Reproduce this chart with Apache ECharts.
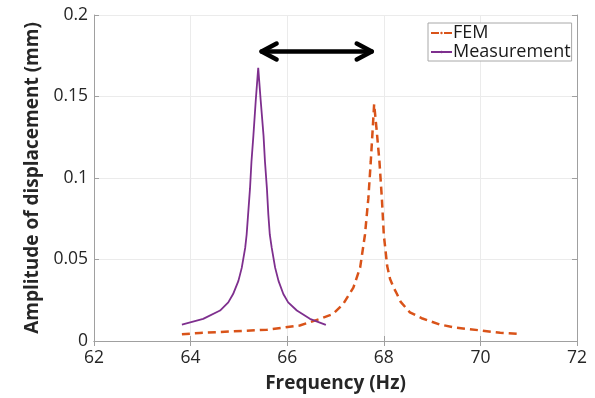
<!DOCTYPE html>
<html>
<head>
<meta charset="utf-8">
<script src="https://cdn.jsdelivr.net/npm/echarts@6/dist/echarts.min.js"></script>
<style>html,body{margin:0;padding:0;background:#fff;}#c{width:595px;height:398px;}</style>
</head>
<body>
<div id="c"></div>
<script>
const xTicks = [62, 64, 66, 68, 70, 72];
const yTicks = [0, 0.05, 0.1, 0.15, 0.2];
const seriesNames = ['FEM', 'Measurement'];

const femFreq = [63.82, 64.19, 64.88, 65.58, 66.26, 66.68, 66.95, 67.16, 67.37, 67.51, 67.61, 67.68, 67.73, 67.77, 67.80,
                 67.85, 67.91, 67.96, 68.00, 68.07, 68.13, 68.20, 68.27, 68.35, 68.54, 68.80, 69.16, 69.51, 70.00, 70.41, 70.78];
const femAmp  = [0.0041, 0.0049, 0.0059, 0.0069, 0.0095, 0.0136, 0.0166, 0.0227, 0.0328, 0.045, 0.0652, 0.0875, 0.110, 0.130, 0.1453,
                 0.130, 0.110, 0.0875, 0.0652, 0.046, 0.038, 0.033, 0.029, 0.024, 0.0176, 0.0138, 0.0101, 0.0081, 0.0065, 0.0050, 0.0044];

const measFreq = [63.82, 64.26, 64.61, 64.78, 64.88, 64.99, 65.06, 65.13, 65.16, 65.19, 65.23, 65.26, 65.30, 65.35, 65.40,
                  65.45, 65.51, 65.54, 65.58, 65.61, 65.64, 65.68, 65.75, 65.82, 65.92, 66.02, 66.20, 66.47, 66.80];
const measAmp  = [0.0101, 0.0136, 0.0187, 0.0237, 0.0288, 0.0369, 0.045, 0.0571, 0.0652, 0.0774, 0.0936, 0.110, 0.126, 0.148, 0.1676,
                  0.148, 0.126, 0.110, 0.0936, 0.0774, 0.0652, 0.0571, 0.045, 0.0369, 0.0288, 0.0237, 0.0187, 0.0136, 0.0099];

// annotation arrow (data units)
const arrowFrom = [65.47, 0.1776];
const arrowTo = [67.75, 0.1776];

const font = '"Open Sans", sans-serif';
const chart = echarts.init(document.getElementById('c'), null, {renderer: 'canvas'});
const axisLine = {show: true, lineStyle: {color: '#a0a0a0', width: 1}};
const tick = {show: true, inside: true, length: 5, lineStyle: {color: '#a0a0a0'}};
const xMin = xTicks[0], xMax = xTicks[xTicks.length - 1], xInt = xTicks[1] - xTicks[0];
const yMin = yTicks[0], yMax = yTicks[yTicks.length - 1], yInt = yTicks[1] - yTicks[0];

chart.setOption({
  animation: false,
  backgroundColor: '#fff',
  grid: {left: 94, right: 18, top: 15, bottom: 54},
  legend: {
    data: seriesNames,
    orient: 'vertical',
    left: 428, top: 23,
    itemWidth: 21, itemHeight: 3, itemGap: 1,
    padding: [1, 1, 0, 2],
    borderColor: '#a8a8a8', borderWidth: 1,
    backgroundColor: '#fff',
    textStyle: {fontFamily: font, fontSize: 18, lineHeight: 18, color: '#1a1a1a', padding: [0, 0, 0, -4]}
  },
  xAxis: [{
    type: 'value', min: xMin, max: xMax, interval: xInt,
    name: 'Frequency (Hz)', nameLocation: 'middle', nameGap: 33,
    nameTextStyle: {fontFamily: font, fontSize: 19, fontWeight: 'bold', color: '#262626'},
    axisLine: axisLine, axisTick: tick,
    axisLabel: {fontFamily: font, fontSize: 17.5, color: '#262626', margin: 8},
    splitLine: {show: true, lineStyle: {color: '#ebebeb', width: 1}}
  }, {
    type: 'value', min: xMin, max: xMax, interval: xInt, position: 'top',
    axisLine: axisLine, axisTick: tick, axisLabel: {show: false}, splitLine: {show: false}
  }],
  yAxis: [{
    type: 'value', min: yMin, max: yMax, interval: yInt,
    name: 'Amplitude of displacement (mm)', nameLocation: 'middle', nameGap: 46,
    nameTextStyle: {fontFamily: font, fontSize: 19, fontWeight: 'bold', color: '#262626'},
    axisLine: axisLine, axisTick: tick,
    axisLabel: {fontFamily: font, fontSize: 17.5, color: '#262626', margin: 6},
    splitLine: {show: true, lineStyle: {color: '#ebebeb', width: 1}}
  }, {
    type: 'value', min: yMin, max: yMax, interval: yInt, position: 'right',
    axisLine: axisLine, axisTick: tick, axisLabel: {show: false}, splitLine: {show: false}
  }],
  series: [{
    name: seriesNames[0], type: 'line', symbol: 'none',
    data: femFreq.map((f, i) => [f, femAmp[i]]),
    lineStyle: {color: '#D95319', width: 2.5, type: [8, 5]},
    itemStyle: {color: '#D95319'},
    z: 3
  }, {
    name: seriesNames[1], type: 'line', symbol: 'none',
    data: measFreq.map((f, i) => [f, measAmp[i]]),
    lineStyle: {color: '#7E2F8E', width: 1.8},
    itemStyle: {color: '#7E2F8E'},
    z: 4
  }]
});

const p1 = chart.convertToPixel({gridIndex: 0}, arrowFrom);
const p2 = chart.convertToPixel({gridIndex: 0}, arrowTo);
const hx = 15, hy = 8;
const st = {stroke: '#000', lineWidth: 4.5, lineCap: 'round', lineJoin: 'round', fill: null};
chart.setOption({
  graphic: [
    {type: 'polyline', shape: {points: [p1, p2]}, style: st, z: 10},
    {type: 'polyline', shape: {points: [[p1[0] + hx, p1[1] - hy], p1, [p1[0] + hx, p1[1] + hy]]}, style: st, z: 10},
    {type: 'polyline', shape: {points: [[p2[0] - hx, p2[1] - hy], p2, [p2[0] - hx, p2[1] + hy]]}, style: st, z: 10}
  ]
});
</script>
</body>
</html>
